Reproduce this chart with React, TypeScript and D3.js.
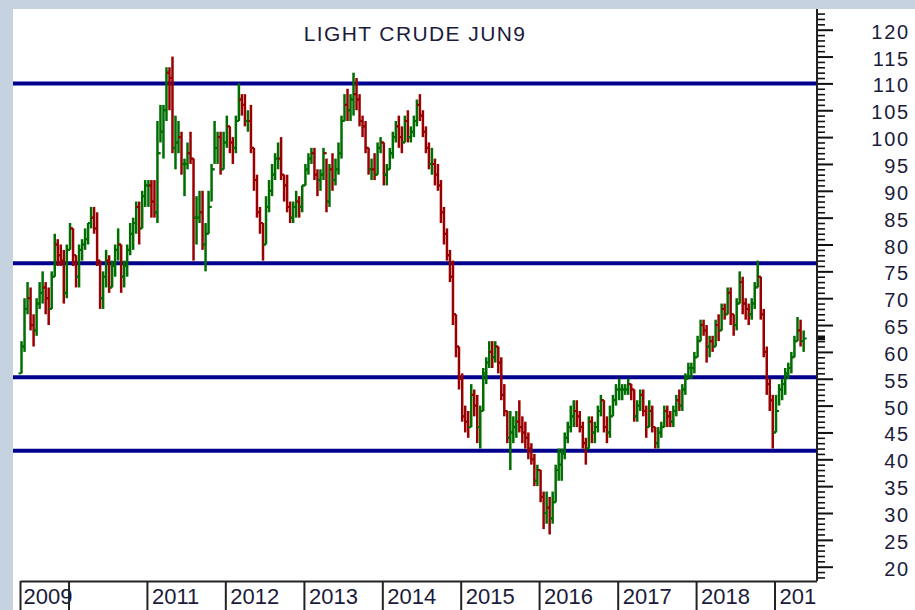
import { useEffect, useRef } from 'react';
import * as d3 from 'd3';

// each bar: [high, low, close], two weeks per bar
type Bar = [number, number, number];

const title = 'LIGHT CRUDE JUN9';

const bars2009: Bar[] = [
    [62, 56, 61], [70, 60, 68], [73, 67, 70], [72, 64, 65], [67, 61, 64], [70, 63, 69],
    [73, 68, 71], [75, 69, 72], [73, 67, 70], [72, 65, 68], [75, 68, 74], [82, 74, 80],
    [81, 76, 78], [80, 76, 77], [79, 69, 71], [80, 70, 79],
];
const bars2010: Bar[] = [
    [84, 79, 83], [83, 76, 78], [78, 72, 74], [80, 72, 79], [81, 77, 80], [83, 79, 81],
    [84, 80, 84], [87, 83, 85], [87, 82, 83], [86, 76, 77], [77, 68, 70], [75, 68, 74],
    [79, 72, 77], [78, 71, 72], [77, 72, 76], [80, 74, 79], [83, 77, 80], [80, 71, 74],
    [77, 72, 76], [80, 74, 79], [84, 78, 82], [85, 79, 84], [88, 82, 87], [88, 80, 83],
    [90, 83, 89], [92, 87, 91],
];
const bars2011: Bar[] = [
    [92, 87, 91], [92, 85, 88], [92, 85, 86], [103, 84, 97], [106, 99, 101], [106, 96, 105],
    [113, 103, 112], [113, 105, 111], [115, 97, 98], [104, 94, 99], [103, 97, 100], [101, 93, 95],
    [96, 89, 95], [99, 94, 97], [101, 95, 96], [96, 77, 85], [89, 80, 85], [90, 84, 86],
    [90, 79, 80], [84, 75, 82], [90, 82, 87], [95, 88, 94], [103, 95, 98], [101, 95, 100],
    [101, 93, 94], [101, 94, 99],
];
const bars2012: Bar[] = [
    [104, 98, 102], [102, 97, 99], [100, 95, 98], [104, 97, 103], [110, 103, 107], [108, 104, 106],
    [108, 102, 103], [105, 101, 103], [106, 97, 98], [98, 90, 92], [93, 85, 86], [87, 82, 84],
    [84, 77, 80], [89, 80, 87], [92, 86, 90], [95, 89, 93], [97, 92, 96], [99, 94, 96],
    [100, 92, 93], [93, 88, 91], [93, 86, 87], [88, 84, 85], [88, 84, 87], [90, 85, 88],
    [89, 85, 87], [91, 86, 91],
];
const bars2013: Bar[] = [
    [95, 91, 94], [97, 93, 96], [98, 95, 97], [98, 92, 93], [94, 89, 92], [94, 90, 93],
    [98, 92, 97], [96, 86, 88], [95, 87, 94], [97, 90, 92], [96, 91, 94], [99, 93, 97],
    [104, 96, 103], [108, 103, 106], [109, 103, 105], [108, 103, 107], [112, 104, 108], [111, 105, 107],
    [108, 102, 103], [104, 100, 102], [103, 97, 98], [98, 93, 94], [96, 92, 94], [97, 92, 93],
    [99, 93, 98], [100, 97, 99],
];
const bars2014: Bar[] = [
    [99, 91, 93], [95, 91, 94], [98, 94, 97], [101, 96, 100], [103, 99, 102], [104, 98, 100],
    [102, 97, 99], [104, 99, 103], [105, 99, 100], [102, 99, 101], [104, 100, 103], [107, 102, 106],
    [108, 103, 104], [105, 100, 101], [102, 97, 98], [99, 94, 95], [98, 93, 95], [96, 91, 93],
    [95, 90, 91], [92, 84, 86], [87, 80, 82], [83, 77, 78], [79, 73, 74], [77, 65, 67],
    [67, 59, 61], [61, 53, 55],
];
const bars2015: Bar[] = [
    [56, 47, 48], [50, 45, 47], [49, 44, 46], [54, 46, 52], [53, 48, 50], [52, 43, 46],
    [50, 42, 49], [57, 49, 56], [59, 54, 58], [62, 57, 60], [62, 57, 59], [62, 58, 61],
    [61, 56, 58], [59, 51, 52], [54, 48, 49], [49, 43, 44], [49, 38, 45], [48, 43, 46],
    [49, 44, 47], [51, 45, 46], [48, 43, 45], [47, 42, 44], [45, 40, 42], [43, 39, 40],
    [41, 35, 36], [39, 35, 38],
];
const bars2016: Bar[] = [
    [38, 32, 33], [34, 27, 30], [34, 28, 31], [33, 26, 29], [34, 28, 32], [39, 32, 38],
    [42, 36, 39], [42, 36, 41], [45, 40, 44], [47, 43, 46], [50, 45, 48], [51, 46, 49],
    [51, 46, 48], [49, 45, 46], [47, 42, 43], [44, 39, 42], [48, 42, 47], [48, 43, 45],
    [47, 43, 46], [50, 45, 49], [52, 48, 51], [51, 45, 46], [48, 43, 45], [50, 44, 48],
    [52, 48, 51], [54, 50, 53],
];
const bars2017: Bar[] = [
    [55, 51, 53], [54, 51, 53], [54, 52, 53], [55, 52, 54], [54, 51, 53], [53, 47, 48],
    [51, 47, 50], [53, 49, 52], [53, 48, 49], [50, 44, 46], [51, 46, 49], [50, 45, 46],
    [46, 42, 43], [46, 42, 45], [47, 44, 46], [50, 46, 49], [50, 46, 48], [49, 46, 47],
    [50, 46, 49], [52, 48, 51], [53, 49, 50], [54, 49, 53], [56, 52, 55], [58, 55, 57],
    [58, 55, 57], [60, 56, 59],
];
const bars2018: Bar[] = [
    [63, 59, 62], [66, 62, 65], [66, 63, 64], [65, 58, 61], [63, 59, 62], [63, 60, 61],
    [66, 61, 65], [67, 62, 64], [69, 64, 68], [69, 66, 67], [72, 67, 71], [72, 65, 67],
    [67, 63, 65], [70, 64, 69], [75, 69, 73], [74, 67, 69], [70, 66, 68], [69, 65, 67],
    [70, 66, 69], [73, 68, 72], [77, 72, 74], [74, 66, 67], [68, 59, 60], [61, 52, 54],
    [55, 49, 51], [52, 42, 45],
];
const bars2019: Bar[] = [
    [52, 45, 49], [54, 50, 53], [55, 51, 54], [57, 52, 56], [58, 55, 57], [60, 56, 59],
    [63, 59, 62], [66.5, 62, 64], [66, 61, 62], [64, 60, 62.5],
];

// first and last day covered by each year's bars
const periodStarts = ['2009-05-20', '2010-01-01', '2011-01-01', '2012-01-01', '2013-01-01', '2014-01-01',
    '2015-01-01', '2016-01-01', '2017-01-01', '2018-01-01', '2019-01-01'];
const periodEnds = ['2009-12-31', '2010-12-31', '2011-12-31', '2012-12-31', '2013-12-31', '2014-12-31',
    '2015-12-31', '2016-12-31', '2017-12-31', '2018-12-31', '2019-05-24'];
const yearBars = [bars2009, bars2010, bars2011, bars2012, bars2013, bars2014,
    bars2015, bars2016, bars2017, bars2018, bars2019];

const yearTicks = ['2009-05-20', '2010-01-01', '2011-01-01', '2012-01-01', '2013-01-01', '2014-01-01',
    '2015-01-01', '2016-01-01', '2017-01-01', '2018-01-01', '2019-01-01'];
const yearLabels = ['2009', '', '2011', '2012', '2013', '2014', '2015', '2016', '2017', '2018', '2019'];

const levels = [110, 76.5, 55.3, 41.6];

const FONT = '"Liberation Sans", Arial, sans-serif';
const TEXT = '#1b1b3c';

export default function App() {
    const ref = useRef<SVGSVGElement>(null);

    useEffect(() => {
        if (!ref.current) return;

        const svg = d3.select(ref.current);
        svg.selectAll('*').remove();

        const width = 915;
        const height = 610;
        const left = 20;
        const right = 817;
        const axisTop = 9;
        const axisBottom = 581;

        const parse = (s: string) => new Date(s + 'T00:00:00');

        const x = d3.scaleTime()
            .domain([parse('2009-05-20'), parse('2019-07-18')])
            .range([left, right]);
        const y = d3.scaleLinear()
            .domain([20, 120])
            .range([566.7, 29.7]);

        svg.append('rect').attr('width', width).attr('height', height).attr('fill', '#c5d3e0');
        svg.append('rect')
            .attr('x', 13).attr('y', 9)
            .attr('width', width - 13).attr('height', height - 9)
            .attr('fill', '#ffffff');

        svg.append('text')
            .attr('x', 415).attr('y', 41)
            .attr('text-anchor', 'middle')
            .attr('font-family', FONT)
            .attr('font-size', 21)
            .attr('letter-spacing', 1.4)
            .attr('fill', TEXT)
            .text(title);

        // support / resistance levels
        svg.append('g')
            .selectAll('line')
            .data(levels)
            .join('line')
            .attr('x1', 13).attr('x2', right)
            .attr('y1', d => y(d)).attr('y2', d => y(d))
            .attr('stroke', '#00008c')
            .attr('stroke-width', 4);

        // price bars
        type Pt = { date: Date; hi: number; lo: number; open: number; close: number };
        const pts: Pt[] = [];
        let prev = bars2009[0][1];
        yearBars.forEach((bars, k) => {
            const t0 = parse(periodStarts[k]).getTime();
            const t1 = parse(periodEnds[k]).getTime();
            bars.forEach(([hi, lo, close], i) => {
                const date = new Date(t0 + ((i + 0.5) / bars.length) * (t1 - t0));
                pts.push({ date, hi, lo, open: prev, close });
                prev = close;
            });
        });

        const barG = svg.append('g');
        const bar = barG.selectAll('g')
            .data(pts)
            .join('g')
            .attr('stroke', d => (d.close >= d.open ? '#006d00' : '#990000'));

        bar.append('line')
            .attr('x1', d => x(d.date)).attr('x2', d => x(d.date))
            .attr('y1', d => y(d.hi)).attr('y2', d => y(d.lo))
            .attr('stroke-width', 2.5);
        bar.append('line')
            .attr('x1', d => x(d.date) - 3).attr('x2', d => x(d.date))
            .attr('y1', d => y(d.open)).attr('y2', d => y(d.open))
            .attr('stroke-width', 2);
        bar.append('line')
            .attr('x1', d => x(d.date)).attr('x2', d => x(d.date) + 3)
            .attr('y1', d => y(d.close)).attr('y2', d => y(d.close))
            .attr('stroke-width', 2);

        // right price axis
        const minor = d3.axisRight(y)
            .tickValues(d3.range(18, 124).filter(v => v % 5 !== 0))
            .tickSize(8)
            .tickSizeOuter(0)
            .tickFormat(() => '');
        const gMinor = svg.append('g').attr('transform', `translate(${right},0)`).call(minor);
        gMinor.select('.domain').remove();
        gMinor.selectAll('line').attr('stroke', '#111').attr('stroke-width', 1.6);

        const major = d3.axisRight(y)
            .tickValues(d3.range(20, 121, 5))
            .tickSize(16)
            .tickSizeOuter(0);
        const gMajor = svg.append('g').attr('transform', `translate(${right},0)`).call(major);
        gMajor.select('.domain').remove();
        gMajor.selectAll('line').attr('stroke', '#111').attr('stroke-width', 2);
        gMajor.selectAll('text')
            .attr('x', 93)
            .attr('dy', 8.5)
            .attr('text-anchor', 'end')
            .attr('font-family', FONT)
            .attr('font-size', 20)
            .attr('letter-spacing', 1.8)
            .attr('fill', TEXT);

        // last price marker
        const last = pts[pts.length - 1].close;
        svg.append('line')
            .attr('x1', right).attr('x2', right + 8)
            .attr('y1', y(last)).attr('y2', y(last))
            .attr('stroke', '#111').attr('stroke-width', 3.5);

        svg.append('line')
            .attr('x1', right).attr('x2', right)
            .attr('y1', axisTop).attr('y2', axisBottom)
            .attr('stroke', '#222').attr('stroke-width', 2);

        // bottom year strip (clip is in the strip's own coordinates)
        svg.append('clipPath').attr('id', 'yearClip')
            .append('rect').attr('x', 0).attr('y', -3)
            .attr('width', right).attr('height', height - axisBottom + 3);

        const xAxis = d3.axisBottom(x)
            .tickValues(yearTicks.map(parse))
            .tickSize(height - axisBottom)
            .tickSizeOuter(0)
            .tickFormat((_, i) => yearLabels[i]);
        const gx = svg.append('g')
            .attr('transform', `translate(0,${axisBottom})`)
            .attr('clip-path', 'url(#yearClip)')
            .call(xAxis);
        gx.select('.domain').attr('stroke', '#222').attr('stroke-width', 2);
        gx.selectAll('line').attr('stroke', '#222').attr('stroke-width', 2);
        gx.selectAll('text')
            .attr('x', (_, i) => (i === 0 ? 3 : 4.5))
            .attr('y', 23)
            .attr('dy', null)
            .attr('text-anchor', 'start')
            .attr('font-family', FONT)
            .attr('font-size', 22)
            .attr('fill', TEXT);
    }, []);

    return (
        <svg
            ref={ref}
            width={915}
            height={610}
            style={{ position: 'absolute', left: 0, top: 0, display: 'block' }}
        />
    );
}
